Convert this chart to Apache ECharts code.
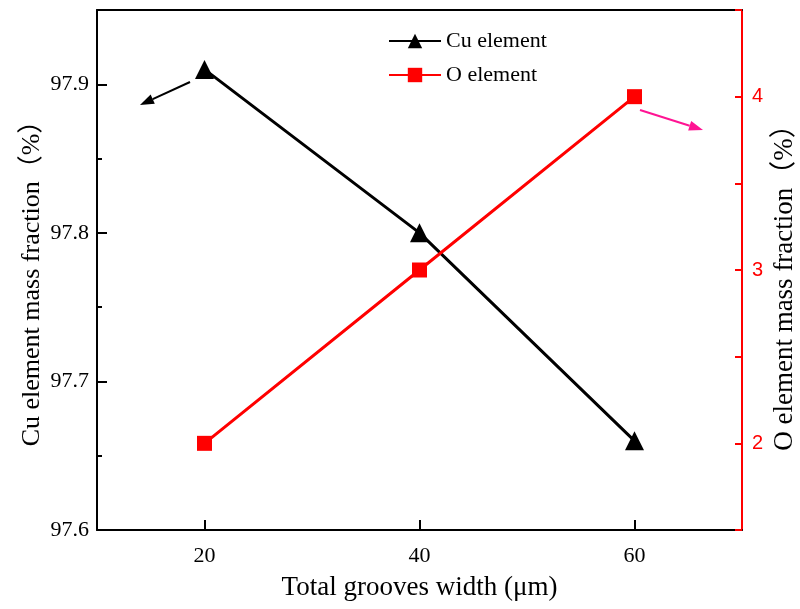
<!DOCTYPE html>
<html>
<head>
<meta charset="utf-8">
<script src="https://cdn.jsdelivr.net/npm/echarts@6/dist/echarts.min.js"></script>
<style>
  html, body { margin: 0; padding: 0; background: #fff; }
  #main { width: 800px; height: 609px; }
</style>
</head>
<body>
<div id="main"></div>
<script>
// x categories (total grooves width, um)
const widths = ['20', '40', '60'];
// Cu mass fraction (%)
const cuData = [97.91, 97.80, 97.66];
// O mass fraction (%)
const oData = [2, 3, 4];

const serif = 'Liberation Serif, Times New Roman, Noto Sans CJK SC, serif';

// little arrow annotation (line + head)
function arrow(x1, y1, x2, y2, color) {
  const dx = x2 - x1, dy = y2 - y1;
  const len = Math.sqrt(dx * dx + dy * dy);
  const ux = dx / len, uy = dy / len;
  const hl = 14, hw = 5;
  const bx = x2 - ux * hl, by = y2 - uy * hl;
  return [
    {
      type: 'line',
      shape: { x1: x1, y1: y1, x2: bx, y2: by },
      style: { stroke: color, lineWidth: 2 }
    },
    {
      type: 'polygon',
      shape: { points: [[x2, y2], [bx - uy * hw, by + ux * hw], [bx + uy * hw, by - ux * hw]] },
      style: { fill: color }
    }
  ];
}

const chart = echarts.init(document.getElementById('main'));

const option = {
  backgroundColor: '#fff',
  animation: false,
  grid: { left: 97, right: 58, top: 10, bottom: 79 },
  legend: {
    orient: 'vertical',
    left: 388,
    top: 30,
    padding: 0,
    itemWidth: 52,
    itemHeight: 18,
    itemGap: 12,
    textStyle: { fontFamily: serif, fontSize: 22, color: '#000' },
    data: ['Cu element', 'O element']
  },
  xAxis: [
    {
      type: 'category',
      data: widths,
      boundaryGap: true,
      name: 'Total grooves width (μm)',
      nameLocation: 'middle',
      nameGap: 44,
      nameTextStyle: { fontFamily: serif, fontSize: 27, color: '#000' },
      axisLine: { lineStyle: { color: '#000', width: 2 } },
      axisTick: { show: true, alignWithLabel: true, inside: true, length: 10, lineStyle: { color: '#000', width: 2 } },
      axisLabel: { fontFamily: serif, fontSize: 22, color: '#000', margin: 15 },
      splitLine: { show: false }
    },
    {
      // top frame line
      type: 'category',
      data: widths,
      position: 'top',
      axisLine: { lineStyle: { color: '#000', width: 2 } },
      axisTick: { show: false },
      axisLabel: { show: false },
      splitLine: { show: false }
    }
  ],
  yAxis: [
    {
      type: 'value',
      min: 97.6,
      max: 97.95,
      interval: 0.1,
      axisLine: { show: true, lineStyle: { color: '#000', width: 2 } },
      axisTick: { show: true, inside: true, length: 10, lineStyle: { color: '#000', width: 2 } },
      minorTick: { show: true, splitNumber: 2, length: 5, lineStyle: { color: '#000', width: 2 } },
      axisLabel: {
        fontFamily: serif, fontSize: 22, color: '#000', margin: 8,
        formatter: function (v) {
          const t = v * 10;
          return Math.abs(t - Math.round(t)) < 0.01 ? v.toFixed(1) : '';
        }
      },
      splitLine: { show: false }
    },
    {
      type: 'value',
      position: 'right',
      min: 1.5,
      max: 4.5,
      interval: 0.5,
      axisLine: { show: true, lineStyle: { color: '#ff0000', width: 2 } },
      axisTick: { show: true, inside: true, length: 7, lineStyle: { color: '#ff0000', width: 2 } },
      axisLabel: {
        fontFamily: 'Liberation Sans, Arial, sans-serif', fontSize: 20, color: '#ff0000', margin: 10,
        formatter: function (v) {
          return Number.isInteger(v) ? String(v) : '';
        }
      },
      splitLine: { show: false }
    }
  ],
  graphic: [
    {
      type: 'text',
      x: 32, y: 277,
      rotation: Math.PI / 2,
      style: {
        text: 'Cu element mass fraction（%）',
        font: '26px ' + serif,
        fill: '#000',
        align: 'center',
        verticalAlign: 'middle'
      }
    },
    {
      type: 'text',
      x: 785, y: 281,
      rotation: Math.PI / 2,
      style: {
        text: 'O element mass fraction（%）',
        font: '27px ' + serif,
        fill: '#000',
        align: 'center',
        verticalAlign: 'middle'
      }
    }
  ].concat(arrow(190, 82, 140, 105, '#000'))
   .concat(arrow(640, 110, 703, 130, '#ff1493')),
  series: [
    {
      name: 'Cu element',
      type: 'line',
      yAxisIndex: 0,
      data: cuData,
      symbol: 'triangle',
      symbolSize: 19,
      lineStyle: { color: '#000', width: 3 },
      itemStyle: { color: '#000' }
    },
    {
      name: 'O element',
      type: 'line',
      yAxisIndex: 1,
      data: oData,
      symbol: 'rect',
      symbolSize: 15,
      lineStyle: { color: '#ff0000', width: 3 },
      itemStyle: { color: '#ff0000' }
    }
  ]
};

chart.setOption(option);
</script>
</body>
</html>
